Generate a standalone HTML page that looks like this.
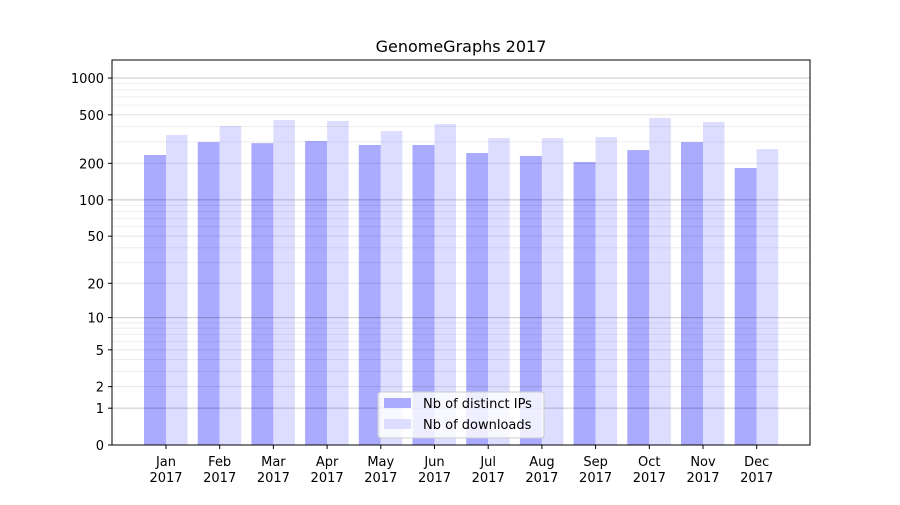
<!DOCTYPE html>
<html><head><meta charset="utf-8"><style>
body{margin:0;background:#fff}
svg text{font-family:"DejaVu Sans","Liberation Sans",sans-serif;fill:#000}
</style></head><body>
<svg id="chart" width="900" height="500" xmlns="http://www.w3.org/2000/svg">
<rect width="900" height="500" fill="#fff"/>
<text x="461" y="52" font-size="16" text-anchor="middle">GenomeGraphs 2017</text>
<g id="bars"></g><g id="grid"></g><g id="axes"></g>
<g>
<rect x="378" y="392" width="166" height="46" rx="3" fill="#fff" fill-opacity="0.8" stroke="#ccc"/>
<rect x="384" y="398" width="27" height="10" fill="#aaaaff"/>
<text x="423" y="408" font-size="13">Nb of distinct IPs</text>
<rect x="384" y="419" width="27" height="10" fill="#ddddff"/>
<text x="423" y="429" font-size="13">Nb of downloads</text>
</g>
</svg>
<script>
const months=["Jan","Feb","Mar","Apr","May","Jun","Jul","Aug","Sep","Oct","Nov","Dec"];
const ips=[234,299,293,305,283,283,243,230,205,257,299,183];
const downloads=[342,405,453,445,368,420,322,322,329,471,436,262];
const yTicks=[0,1,2,5,10,20,50,100,200,500,1000];
const NS="http://www.w3.org/2000/svg";
const L=112,R=810,T=60,B=445;
function y(v){return B-122.3*Math.log10(1+v);}
function x(i){return 166+i*53.7;}
function mk(tag,at,parent){const e=document.createElementNS(NS,tag);for(const k in at)e.setAttribute(k,at[k]);parent.appendChild(e);return e;}
const bars=document.getElementById('bars'),grid=document.getElementById('grid'),axes=document.getElementById('axes');
months.forEach((m,i)=>{
 const a=mk('rect',{x:x(i)-22,y:y(ips[i]),width:22,height:B-y(ips[i]),fill:'#aaaaff'},bars);
 
 
 const b=mk('rect',{x:x(i),y:y(downloads[i]),width:21.5,height:B-y(downloads[i]),fill:'#ddddff'},bars);
 
 
 mk('line',{x1:x(i),x2:x(i),y1:B,y2:B+4,stroke:'#000'},axes);
 const t=mk('text',{x:x(i),y:B+21,'font-size':13,'text-anchor':'middle'},axes);
 
 
 t.innerHTML=m+'<tspan x="'+x(i)+'" dy="16">2017</tspan>';
});
const minors=[3,4,6,7,8,9,30,40,60,70,80,90,300,400,600,700,800,900];
minors.forEach(v=>{mk('line',{x1:L,x2:R,y1:y(v),y2:y(v),stroke:'#000','stroke-opacity':0.07},grid);});
[2,5,20,50,200,500].forEach(v=>{mk('line',{x1:L,x2:R,y1:y(v),y2:y(v),stroke:'#000','stroke-opacity':0.1},grid);});
[1,10,100,1000].forEach(v=>{mk('line',{x1:L,x2:R,y1:y(v),y2:y(v),stroke:'#000','stroke-opacity':0.22},grid);});
yTicks.forEach(v=>{
 mk('line',{x1:L-4,x2:L,y1:y(v),y2:y(v),stroke:'#000'},axes);
 const t=mk('text',{x:L-8,y:y(v)+5,'font-size':13,'text-anchor':'end'},axes);
 
 
 t.textContent=v;
});
const f=mk('rect',{x:L,y:T,width:R-L,height:B-T,fill:'none',stroke:'#000','stroke-width':1},axes);


</script>
</body></html>
